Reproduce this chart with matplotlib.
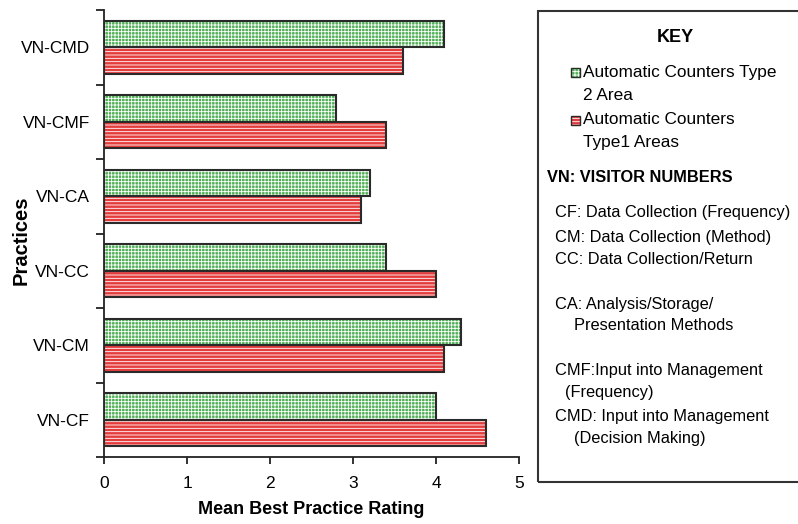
import matplotlib
matplotlib.use("Agg")
import matplotlib.pyplot as plt
from matplotlib.patches import Rectangle
import numpy as np

plt.rcParams['font.family'] = ['Liberation Sans', 'DejaVu Sans']
plt.rcParams['hatch.linewidth'] = 0.6

# Data (bottom to top)
practices = ["VN-CF", "VN-CM", "VN-CC", "VN-CA", "VN-CMF", "VN-CMD"]
type2_area = [4.0, 4.3, 3.4, 3.2, 2.8, 4.1]
type1_areas = [4.6, 4.1, 4.0, 3.1, 3.4, 3.6]
x_ticks = [0, 1, 2, 3, 4, 5]

series_labels = ["Automatic Counters Type\n2 Area", "Automatic Counters\nType1 Areas"]

W, H = 798, 524
fig = plt.figure(figsize=(W / 100, H / 100), dpi=100)
ax = fig.add_axes([104 / W, 1 - 457 / H, (519 - 104) / W, (457 - 10) / H])

GREEN_FACE = "#4fae56"
RED_FACE = "#e43c3c"
HATCH_COL = "white"
EDGE = "#2a2a2a"

y = np.arange(len(practices))
bh = 0.355
off = 0.1775


def hatched_barh(ax, ypos, vals, face, hatch):
    # fill + hatch drawn first, outline drawn on top
    ax.barh(ypos, vals, height=bh, color=face, edgecolor=HATCH_COL,
            hatch=hatch, linewidth=0, zorder=2)
    ax.barh(ypos, vals, height=bh, fill=False, edgecolor=EDGE,
            linewidth=1.5, zorder=3)


hatched_barh(ax, y + off, type2_area, GREEN_FACE, "+++++")
hatched_barh(ax, y - off, type1_areas, RED_FACE, "-----")

ax.set_xlim(0, 5)
ax.set_ylim(-0.5, len(practices) - 0.5)

for s in ["top", "right"]:
    ax.spines[s].set_visible(False)
for s in ["left", "bottom"]:
    ax.spines[s].set_color("#222222")
    ax.spines[s].set_linewidth(1.3)

ax.set_xticks(x_ticks)
ax.set_xticklabels([str(t) for t in x_ticks], fontsize=12.5)
ax.tick_params(axis="x", direction="out", length=5, width=1.3,
               color="#222222", pad=9)

# category boundaries get the tick marks, category centres get the labels
ax.set_yticks(np.arange(-0.5, len(practices)))
ax.set_yticklabels([])
ax.set_yticks(y, minor=True)
ax.set_yticklabels(practices, minor=True, fontsize=12.5)
ax.tick_params(axis="y", which="major", direction="out", length=6,
               width=1.3, color="#222222")
ax.tick_params(axis="y", which="minor", length=0, pad=10)

ax.set_xlabel("Mean Best Practice Rating", fontsize=13, fontweight="bold",
              labelpad=7)
ax.set_ylabel("Practices", fontsize=14.5, fontweight="bold")
ax.yaxis.set_label_coords(-0.176, 0.485)


def ftxt(px, py, s, **kw):
    fig.text(px / W, 1 - py / H, s, va="center", **kw)


# key box
fig.patches.append(Rectangle((538 / W, 1 - 482 / H), (W + 20 - 538) / W,
                             (482 - 11) / H, transform=fig.transFigure,
                             fill=False, edgecolor="#333333", linewidth=1.5,
                             clip_on=False))

ftxt(675, 37, "KEY", ha="center", fontsize=13, fontweight="bold")


def key_patch(px, py, face, hatch):
    s = 9
    r = Rectangle((px / W, 1 - (py + s / 2) / H), s / W, s / H,
                  transform=fig.transFigure, facecolor=face,
                  edgecolor=HATCH_COL, hatch=hatch, linewidth=0)
    fig.patches.append(r)
    fig.patches.append(Rectangle((px / W, 1 - (py + s / 2) / H), s / W, s / H,
                                 transform=fig.transFigure, fill=False,
                                 edgecolor=EDGE, linewidth=1.0))


key_patch(571, 72, GREEN_FACE, "+++++")
key_patch(571, 120, RED_FACE, "-----")

leg_fs = 12.4
l2 = series_labels[0].split("\n")
l1 = series_labels[1].split("\n")
ftxt(583, 72, l2[0], fontsize=leg_fs)
ftxt(583, 96, l2[1], fontsize=leg_fs)
ftxt(583, 120, l1[0], fontsize=leg_fs)
ftxt(583, 143, l1[1], fontsize=leg_fs)

ftxt(547, 177, "VN: VISITOR NUMBERS", fontsize=11.8, fontweight="bold")

notes = [
    (555, 213, "CF: Data Collection (Frequency)"),
    (555, 237, "CM: Data Collection (Method)"),
    (555, 259, "CC: Data Collection/Return"),
    (555, 305, "CA: Analysis/Storage/"),
    (574, 326, "Presentation Methods"),
    (555, 371, "CMF:Input into Management"),
    (565, 393, "(Frequency)"),
    (555, 416, "CMD: Input into Management"),
    (574, 438, "(Decision Making)"),
]
for px, py, s in notes:
    ftxt(px, py, s, fontsize=11.8)

fig.savefig("out.png", dpi=100)
